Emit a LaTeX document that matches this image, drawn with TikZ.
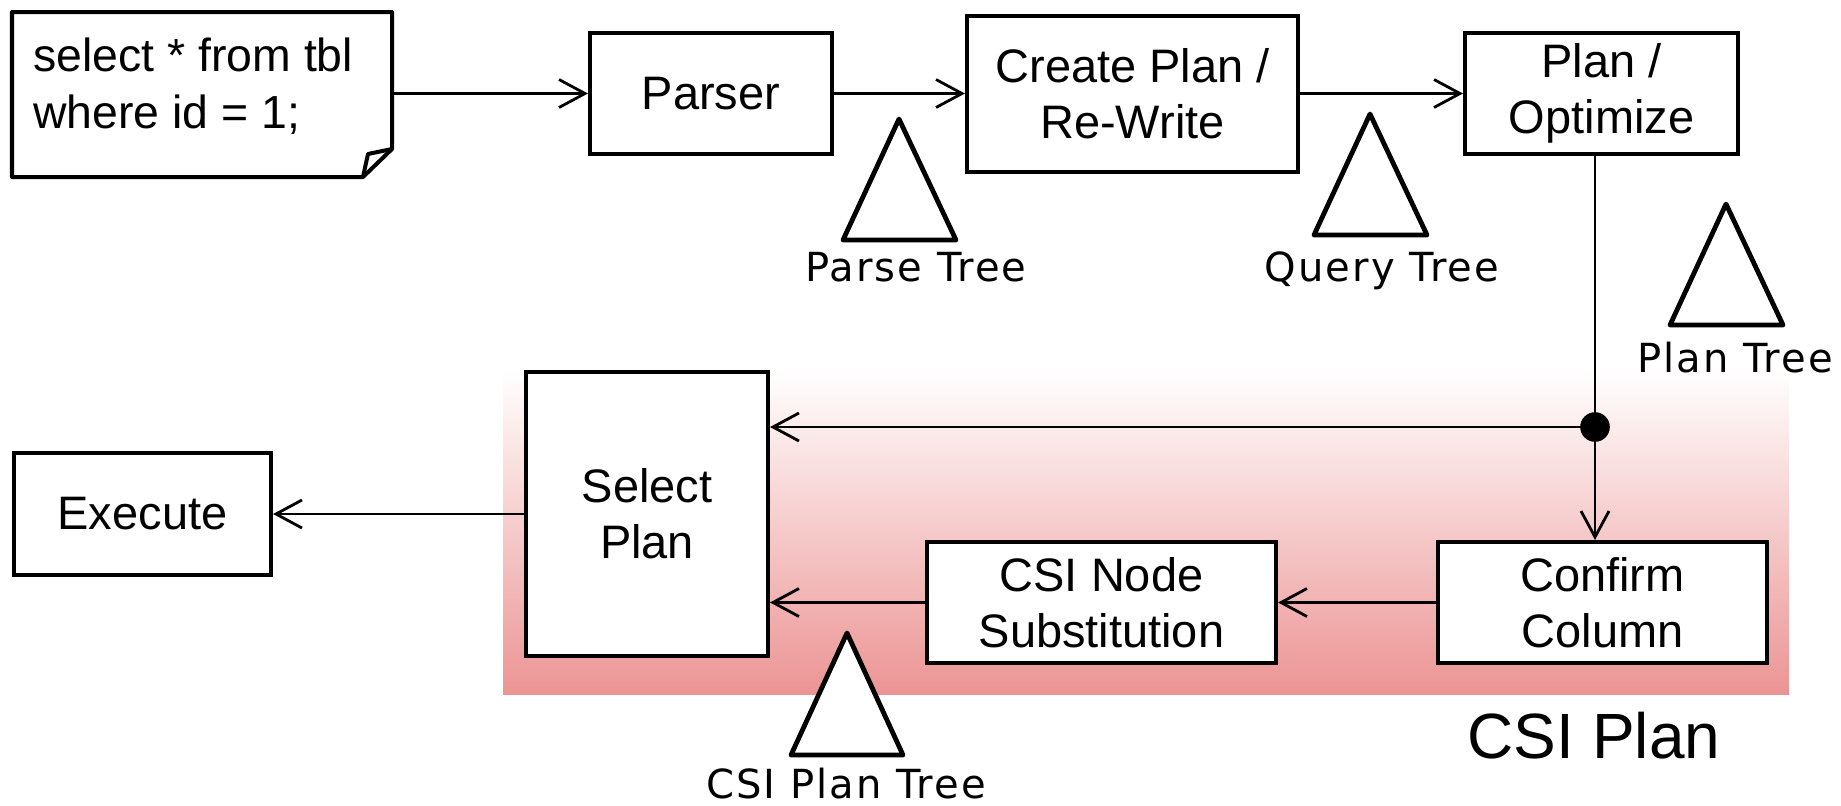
\documentclass[tikz,border=0pt]{standalone}
\usepackage{fontspec}
\setmainfont{Liberation Sans}
\newfontfamily\lblfont[LetterSpace=5]{DejaVu Sans}
\usetikzlibrary{arrows.meta}
\definecolor{pinkb}{RGB}{236,148,148}
\tikzset{
  box/.style={draw, line width=0.1cm, fill=white, inner sep=0pt, align=center,
    font=\fontsize{33.4}{39.8}\selectfont},
  sqltext/.style={anchor=base west, inner sep=0pt, font=\fontsize{33}{39.8}\selectfont},
  conn/.style={line width=0.07cm, -{Straight Barb[length=0.65cm,width=0.7cm,line width=0.07cm]}},
  plain/.style={line width=0.07cm},
  tri/.style={draw, line width=0.12cm, fill=white, line join=round},
  treelbl/.style={anchor=base, inner sep=0pt, font=\lblfont\fontsize{28.5}{34}\selectfont},
  biglbl/.style={anchor=base, inner sep=0pt, font=\fontsize{45.5}{50}\selectfont},
  junction/.style={circle, fill=black, inner sep=0pt, minimum size=0.74cm}
}
\begin{document}
\begin{tikzpicture}[x=0.025cm,y=-0.025cm]
\useasboundingbox (0,0) rectangle (1841,805);
% shaded CSI region
\shade[top color=white, bottom color=pinkb] (503,370) rectangle (1789,694);
\node[biglbl] (csilbl) at (1594,758) {CSI Plan};

% SQL document
\node[minimum width=9.5cm, minimum height=4.125cm, inner sep=0pt] (sql) at (202,94.5) {};
\draw[line width=0.1cm, line join=round, fill=white] (12,12) -- (392,12) -- (392,149) -- (363,177) -- (12,177) -- cycle;
\draw[line width=0.1cm, line join=round] (392,149) -- (368,154) -- (363,177);
\node[sqltext] (sql1) at (33,71) {select * from tbl};
\node[sqltext] (sql2) at (33,128) {where id = 1;};

% boxes
\node[box, minimum width=6.05cm, minimum height=3.025cm] (parser) at (711,93.5) {Parser};
\node[box, minimum width=8.275cm, minimum height=3.9cm] (create) at (1132.5,94) {Create Plan /\\Re-Write};
\node[box, minimum width=6.825cm, minimum height=3.025cm] (opt) at (1601.5,93.5) {Plan /\\Optimize};
\node[box, minimum width=6.05cm, minimum height=7.1cm] (select) at (647,514) {Select\\Plan};
\node[box, minimum width=6.425cm, minimum height=3.05cm] (exec) at (142.5,514) {Execute};
\node[box, minimum width=8.725cm, minimum height=3.025cm] (csi) at (1101.5,602.5) {CSI Node\\Substitution};
\node[box, minimum width=8.225cm, minimum height=3.025cm] (confirm) at (1602.5,602.5) {Confirm\\Column};
\node[junction] (dot) at (1595,427) {};

% connectors
\draw[conn] (sql.east |- parser.west) -- (parser.west);
\draw[conn] (parser.east) -- (create.west |- parser.east);
\draw[conn] (create.east |- opt.west) -- (opt.west);
\draw[plain] (dot |- opt.south) -- (dot.center);
\draw[conn] (dot.center) -- (select.east |- dot);
\draw[conn] (dot.center) -- (dot |- confirm.north);
\draw[conn] (confirm.west) -- (csi.east);
\draw[conn] (csi.west) -- (select.east |- csi.west);
\draw[conn] (select.west) -- (exec.east);

% trees
\draw[tri] (899,119) -- (956,240) -- (843,240) -- cycle;
\node[treelbl] (parsetree) at (916,281) {Parse Tree};
\draw[tri] (1370,114) -- (1427,235) -- (1314,235) -- cycle;
\node[treelbl] (querytree) at (1382,281) {Query Tree};
\draw[tri] (1726,204) -- (1783,325) -- (1670,325) -- cycle;
\node[treelbl] (plantree) at (1735,372) {Plan Tree};
\draw[tri] (847,633) -- (903,755) -- (791,755) -- cycle;
\node[treelbl] (csitree) at (846,798) {CSI Plan Tree};
\end{tikzpicture}
\end{document}
